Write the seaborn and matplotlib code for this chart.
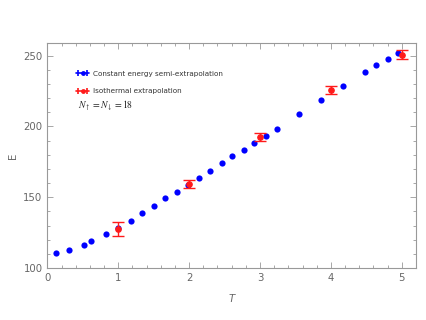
import matplotlib
matplotlib.use("Agg")
import matplotlib.pyplot as plt
import seaborn as sns
import numpy as np
import pandas as pd
from matplotlib.lines import Line2D
from matplotlib.legend_handler import HandlerLine2D
from matplotlib.ticker import MultipleLocator

# Data
T_ce = [0.12, 0.31, 0.52, 0.62, 0.82, 1.00, 1.18, 1.34, 1.50, 1.66, 1.83, 1.99, 2.14, 2.30,
        2.46, 2.61, 2.77, 2.92, 3.08, 3.24, 3.55, 3.86, 4.17, 4.48, 4.64, 4.80, 4.95]
E_ce = [110.8, 112.5, 116.4, 118.8, 123.7, 128.6, 133.3, 138.5, 144.1, 149.1, 153.7, 158.4,
        163.6, 168.3, 173.9, 178.9, 183.6, 188.5, 193.4, 198.1, 208.6, 218.5, 228.3, 238.7,
        243.6, 247.6, 251.6]
T_iso = [1, 2, 3, 4, 5]
E_iso = [127.5, 159.3, 192.7, 225.8, 250.7]
E_iso_err = [5.0, 3.0, 3.0, 3.0, 3.0]

label_ce = "Constant energy semi-extrapolation"
label_iso = "Isothermal extrapolation"
annot = r"$N_\uparrow = N_\downarrow = 18$"

sns.set_style("white")
plt.rcParams['font.family'] = ['DejaVu Sans']
plt.rcParams['mathtext.fontset'] = 'stix'

fig = plt.figure(figsize=(4.27, 3.2), dpi=100)
ax = fig.add_axes([0.111, 0.1625, 0.863, 0.7035])

BLUE = "#0000ff"
RED = "#ff1a1a"
GRAY = "#999999"

df_ce = pd.DataFrame({"T": T_ce, "E": E_ce})
sns.scatterplot(data=df_ce, x="T", y="E", ax=ax, color=BLUE, s=20, linewidth=0, zorder=3, legend=False)
ax.errorbar(T_iso, E_iso, yerr=E_iso_err, fmt='o', color=RED, ms=3.8, elinewidth=1.0,
            capsize=4, capthick=1.0, zorder=4)

ax.set_xlim(0, 5.2)
ax.set_ylim(100, 259)
ax.xaxis.set_major_locator(MultipleLocator(1))
ax.xaxis.set_minor_locator(MultipleLocator(0.2))
ax.yaxis.set_major_locator(MultipleLocator(50))
ax.yaxis.set_minor_locator(MultipleLocator(10))
ax.tick_params(which='both', direction='in', top=True, right=True, bottom=True, left=True,
               color=GRAY, labelcolor="#666666", labelsize=7.3, width=0.6)
ax.tick_params(which='major', length=4)
ax.tick_params(which='minor', length=2)
for sp in ax.spines.values():
    sp.set_color(GRAY)
    sp.set_linewidth(0.8)

ax.set_xlabel("T", fontsize=7.3, color="#666666", style='italic', labelpad=8)
ax.set_ylabel("E", fontsize=7.3, color="#666666", labelpad=4)

# legend
def make_handle(color):
    line = Line2D([], [], color=color, lw=1.2, marker='o', ms=3.5, markeredgewidth=0)
    caps = Line2D([], [], color=color, lw=0, marker='|', ms=4, markeredgewidth=1.2)
    return (line, caps)

h_ce = make_handle(BLUE)
h_iso = make_handle(RED)
hmap = {h_ce[1]: HandlerLine2D(numpoints=2), h_iso[1]: HandlerLine2D(numpoints=2)}
leg = ax.legend([h_ce, h_iso], [label_ce, label_iso], handler_map=hmap, loc='upper left',
                bbox_to_anchor=(0.06, 0.905), frameon=False, fontsize=5.2, handlelength=1.8,
                handletextpad=0.6, labelspacing=1.6, numpoints=1)
for t in leg.get_texts():
    t.set_color("#333333")

ax.text(0.083, 0.72, annot, transform=ax.transAxes, fontsize=7, 
        va='center', ha='left', color="#222222")

fig.savefig("out.png", dpi=100)
